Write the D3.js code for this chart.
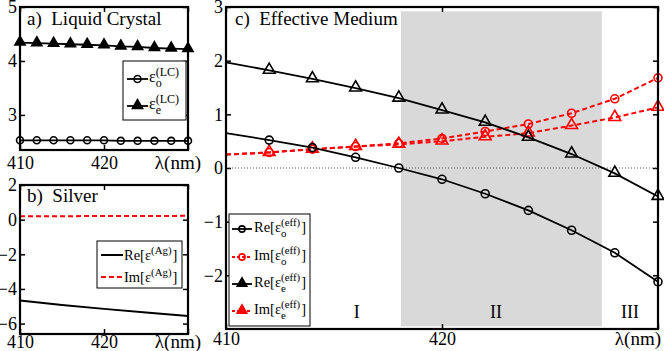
<!DOCTYPE html>
<html>
<head>
<meta charset="utf-8">
<script src="https://cdn.jsdelivr.net/npm/d3@7"></script>
<style>
  body { margin: 0; background: #fff; }
  svg text { font-family: "Liberation Serif", "Times New Roman", serif; fill: #000; }
</style>
</head>
<body>
<svg id="chart" width="664" height="351"></svg>
<script>
// panel a: liquid crystal permittivity
const lambdaLC = [410, 412, 414, 416, 418, 420, 422, 424, 426, 428, 430];
const epsOrdLC = [2.53, 2.53, 2.53, 2.53, 2.53, 2.53, 2.52, 2.52, 2.52, 2.52, 2.52];
const epsExtLC = [4.34, 4.33, 4.32, 4.31, 4.30, 4.29, 4.27, 4.26, 4.24, 4.23, 4.22];

// panel b: silver
const lambdaAg = [410, 415, 420, 425, 430];
const reAg = [-4.67, -4.92, -5.15, -5.36, -5.56];
const imAg = [0.2, 0.2, 0.21, 0.21, 0.22];

// panel c: effective medium
const lambdaEff = [410, 412, 414, 416, 418, 420, 422, 424, 426, 428, 430];
const reEpsO = [0.65, 0.52, 0.38, 0.2, 0.0, -0.21, -0.48, -0.79, -1.16, -1.58, -2.12];
const imEpsO = [0.25, 0.29, 0.35, 0.4, 0.46, 0.55, 0.68, 0.82, 1.02, 1.29, 1.68];
const reEpsE = [1.97, 1.82, 1.66, 1.49, 1.3, 1.08, 0.85, 0.57, 0.26, -0.1, -0.53];
const imEpsE = [0.25, 0.29, 0.35, 0.4, 0.44, 0.5, 0.58, 0.65, 0.79, 0.94, 1.13];
const regionEdges = [418.1, 427.4];
const regionLabels = ['I', 'II', 'III'];
const regionLabelX = [416.05, 422.5, 428.7];

const svg = d3.select('#chart');
const RED = '#ff0000';
const TICK_FS = 18;

function makePanel(box, xDomain, yDomain, yTicks) {
  const x = d3.scaleLinear().domain(xDomain).range([box.left, box.right]);
  const y = d3.scaleLinear().domain(yDomain).range([box.bottom, box.top]);
  const g = svg.append('g');
  const tickSize = 5;
  const fmt = d3.format('d');

  const yAxis = g.append('g')
    .attr('transform', `translate(${box.left},0)`)
    .call(d3.axisLeft(y).tickValues(yTicks).tickSizeInner(-tickSize).tickSizeOuter(0).tickPadding(3).tickFormat(fmt));
  const yAxisR = g.append('g')
    .attr('transform', `translate(${box.right},0)`)
    .call(d3.axisRight(y).tickValues(yTicks).tickSizeInner(-tickSize).tickSizeOuter(0).tickFormat(''));
  const xTicks = [410, 420, 430];
  const xAxis = g.append('g')
    .attr('transform', `translate(0,${box.bottom})`)
    .call(d3.axisBottom(x).tickValues(xTicks).tickSizeInner(-tickSize).tickSizeOuter(0).tickPadding(box.xPad)
      .tickFormat(d => d === 430 ? '' : d));
  const xAxisT = g.append('g')
    .attr('transform', `translate(0,${box.top})`)
    .call(d3.axisTop(x).tickValues(xTicks).tickSizeInner(-tickSize).tickSizeOuter(0).tickFormat(''));
  [yAxis, yAxisR, xAxis, xAxisT].forEach(a => {
    a.select('.domain').remove();
    a.selectAll('line').attr('stroke', '#000').attr('stroke-width', 1.5);
    a.selectAll('text').attr('font-size', TICK_FS).attr('font-family', '"Liberation Serif", serif').attr('fill', '#000');
  });

  g.append('text')
    .attr('x', box.lambdaX).attr('y', box.bottom + box.xPad + 13)
    .attr('text-anchor', 'end').attr('font-size', 19)
    .text('λ(nm)');

  return { x, y, g };
}

function drawBox(box) {
  svg.append('rect')
    .attr('x', box.left).attr('y', box.top)
    .attr('width', box.right - box.left).attr('height', box.bottom - box.top)
    .attr('fill', 'none').attr('stroke', '#000').attr('stroke-width', 2.2);
}

function drawSeries(p, xs, ys, opts) {
  const pts = xs.map((d, i) => ({ x: d, y: ys[i] }));
  const line = d3.line().x(d => p.x(d.x)).y(d => p.y(d.y));
  p.g.append('path').datum(pts)
    .attr('d', line).attr('fill', 'none')
    .attr('stroke', opts.color).attr('stroke-width', opts.width || 1.8)
    .attr('stroke-dasharray', opts.dash || null);
  const mPts = pts.filter((d, i) => i >= (opts.markerStart || 0));
  if (opts.marker) {
    drawMarkers(p.g, mPts.map(d => [p.x(d.x), p.y(d.y)]), opts);
  }
}

function drawMarkers(g, coords, opts) {
  const sym = opts.marker === 'circle' ? d3.symbolCircle : d3.symbolTriangle;
  const size = opts.marker === 'circle' ? (opts.circleSize || 40) : (opts.triSize || 50);
  g.selectAll(null).data(coords).enter().append('path')
    .attr('transform', d => `translate(${d[0]},${d[1] + (opts.marker === 'circle' ? 0 : -0.5)})`)
    .attr('d', d3.symbol().type(sym).size(size))
    .attr('fill', opts.fill || 'none')
    .attr('stroke', opts.color).attr('stroke-width', 1.6);
}

// stacked sub/superscript legend label
function epsLabel(g, x0, yb, pre, sub, sup, post, fs) {
  const t = g.append('text').attr('x', x0).attr('y', yb).attr('font-size', fs);
  t.append('tspan').text(pre);
  const preW = t.node().getComputedTextLength();
  const sfs = fs * 0.75;
  g.append('text').attr('x', x0 + preW).attr('y', yb + 5).attr('font-size', sfs).text(sub);
  const s = g.append('text').attr('x', x0 + preW).attr('y', yb - 6).attr('font-size', sfs).text(sup);
  const supW = s.node().getComputedTextLength();
  if (post) g.append('text').attr('x', x0 + preW + supW + 1).attr('y', yb).attr('font-size', fs).text(post);
}

// ---------- panel a ----------
const boxA = { left: 20, right: 188, top: 7, bottom: 150, lambdaX: 201, xPad: 6 };
const pA = makePanel(boxA, [410, 430], [2.35, 5], [3, 4, 5]);
drawSeries(pA, lambdaLC, epsExtLC, { color: '#000', marker: 'tri', fill: '#000', triSize: 45 });
drawSeries(pA, lambdaLC, epsOrdLC, { color: '#000', marker: 'circle', circleSize: 38 });
drawBox(boxA);
pA.g.append('text').attr('x', 27).attr('y', 25).attr('font-size', 19)
  .attr('xml:space', 'preserve').text('a)  Liquid Crystal');
const legA = svg.append('g');
legA.append('rect').attr('x', 123).attr('y', 61).attr('width', 63).attr('height', 59)
  .attr('fill', '#fff').attr('stroke', '#000').attr('stroke-width', 1);
[[79, { color: '#000', marker: 'circle', circleSize: 38 }, 'o'],
 [106, { color: '#000', marker: 'tri', fill: '#000', triSize: 45 }, 'e']].forEach(([ly, o, sub]) => {
  legA.append('line').attr('x1', 127).attr('x2', 148).attr('y1', ly).attr('y2', ly)
    .attr('stroke', '#000').attr('stroke-width', 1.8);
  drawMarkers(legA, [[137.5, ly]], o);
  epsLabel(legA, 149, ly + 3, 'ε', sub, '(LC)', null, 16);
});

// ---------- panel b ----------
const boxB = { left: 20, right: 188, top: 185, bottom: 334, lambdaX: 201, xPad: 1 };
const pB = makePanel(boxB, [410, 430], [-6.6, 2], [-6, -4, -2, 0, 2]);
drawSeries(pB, lambdaAg, reAg, { color: '#000', width: 2 });
drawSeries(pB, lambdaAg, imAg, { color: RED, width: 2, dash: '5,3' });
drawBox(boxB);
pB.g.append('text').attr('x', 27).attr('y', 202).attr('font-size', 19)
  .attr('xml:space', 'preserve').text('b)  Silver');
const legB = svg.append('g');
legB.append('rect').attr('x', 97).attr('y', 241).attr('width', 85).attr('height', 47)
  .attr('fill', '#fff').attr('stroke', '#000').attr('stroke-width', 1);
[[255, { color: '#000', width: 2 }, 'Re['],
 [277, { color: RED, width: 2, dash: '5,3' }, 'Im[']].forEach(([ly, o, pre]) => {
  legB.append('line').attr('x1', 101).attr('x2', 123).attr('y1', ly).attr('y2', ly)
    .attr('stroke', o.color).attr('stroke-width', o.width).attr('stroke-dasharray', o.dash || null);
  epsLabel(legB, 124, ly + 5, pre + 'ε', '', '(Ag)', ']', 14.5);
});

// ---------- panel c ----------
const boxC = { left: 226, right: 658, top: 7, bottom: 329, lambdaX: 661, xPad: 3 };
const xC = d3.scaleLinear().domain([410, 430]).range([boxC.left, boxC.right]);
const yC = d3.scaleLinear().domain([-3, 3]).range([boxC.bottom, boxC.top]);
svg.append('rect')
  .attr('x', xC(regionEdges[0])).attr('y', yC(2.92))
  .attr('width', xC(regionEdges[1]) - xC(regionEdges[0]))
  .attr('height', yC(-2.95) - yC(2.92))
  .attr('fill', '#d9d9d9');
const pC = makePanel(boxC, [410, 430], [-3, 3], [-2, -1, 0, 1, 2, 3]);
pC.g.append('line')
  .attr('x1', boxC.left).attr('x2', boxC.right).attr('y1', yC(0)).attr('y2', yC(0))
  .attr('stroke', '#555').attr('stroke-width', 1).attr('stroke-dasharray', '1,2');

const optReO = { color: '#000', marker: 'circle', markerStart: 1, circleSize: 50 };
const optImO = { color: RED, marker: 'circle', markerStart: 1, circleSize: 50, dash: '5,3', width: 2 };
const optReE = { color: '#000', marker: 'tri', markerStart: 1, triSize: 60 };
const optImE = { color: RED, marker: 'tri', markerStart: 1, triSize: 60, dash: '5,3', width: 2 };
drawSeries(pC, lambdaEff, imEpsE, optImE);
drawSeries(pC, lambdaEff, imEpsO, optImO);
drawSeries(pC, lambdaEff, reEpsO, optReO);
drawSeries(pC, lambdaEff, reEpsE, optReE);
drawBox(boxC);
pC.g.append('text').attr('x', 235).attr('y', 25).attr('font-size', 19)
  .attr('xml:space', 'preserve').text('c)  Effective Medium');
regionLabels.forEach((lab, i) => {
  pC.g.append('text').attr('x', xC(regionLabelX[i])).attr('y', 318)
    .attr('text-anchor', 'middle').attr('font-size', 18).text(lab);
});

const legC = svg.append('g');
legC.append('rect').attr('x', 229).attr('y', 214).attr('width', 81).attr('height', 112)
  .attr('fill', '#fff').attr('stroke', '#000').attr('stroke-width', 1);
[[229, optReO, 'Re[', 'o'], [257, optImO, 'Im[', 'o'],
 [284, { ...optReE, fill: '#000' }, 'Re[', 'e'], [311, { ...optImE, fill: RED }, 'Im[', 'e']]
  .forEach(([ly, o, pre, sub]) => {
    legC.append('line').attr('x1', 232).attr('x2', 252).attr('y1', ly).attr('y2', ly)
      .attr('stroke', o.color).attr('stroke-width', o.width || 1.8)
      .attr('stroke-dasharray', o.dash ? '3,2' : null);
    drawMarkers(legC, [[242, ly]], { ...o, circleSize: 30, triSize: 40 });
    epsLabel(legC, 254, ly + 3, pre + 'ε', sub, '(eff)', ']', 14.5);
  });
</script>
</body>
</html>
